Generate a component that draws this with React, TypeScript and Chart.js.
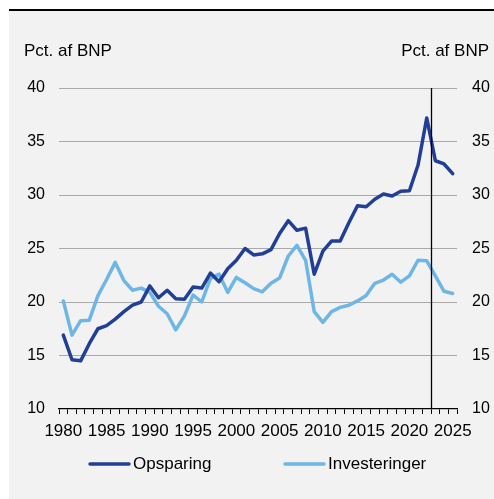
import React, { useEffect, useRef } from "react";
import { Chart, registerables } from "chart.js";

Chart.register(...registerables);

const years = [
  1980, 1981, 1982, 1983, 1984, 1985, 1986, 1987, 1988, 1989,
  1990, 1991, 1992, 1993, 1994, 1995, 1996, 1997, 1998, 1999,
  2000, 2001, 2002, 2003, 2004, 2005, 2006, 2007, 2008, 2009,
  2010, 2011, 2012, 2013, 2014, 2015, 2016, 2017, 2018, 2019,
  2020, 2021, 2022, 2023, 2024, 2025,
];

const opsparing = [
  16.9, 14.6, 14.5, 16.1, 17.5, 17.8, 18.4, 19.1, 19.7, 20.0,
  21.5, 20.4, 21.1, 20.3, 20.25, 21.4, 21.3, 22.7, 21.9, 23.1,
  23.9, 25.0, 24.4, 24.5, 24.9, 26.4, 27.6, 26.7, 26.9, 22.6,
  24.75, 25.7, 25.7, 27.4, 29.0, 28.9, 29.6, 30.1, 29.9, 30.35,
  30.4, 32.8, 37.2, 33.2, 32.9, 32.0,
];

const investeringer = [
  20.1, 16.9, 18.25, 18.3, 20.6, 22.1, 23.7, 22.0, 21.1, 21.3,
  20.9, 19.6, 18.9, 17.4, 18.7, 20.65, 20.0, 22.2, 22.6, 20.9,
  22.3, 21.8, 21.25, 20.95, 21.75, 22.25, 24.3, 25.3, 23.9, 19.1,
  18.1, 19.1, 19.5, 19.7, 20.1, 20.6, 21.75, 22.05, 22.6, 21.85,
  22.45, 23.9, 23.85, 22.45, 21.0, 20.8,
];

const yTicks = [10, 15, 20, 25, 30, 35, 40];
const seriesNames = ["Opsparing", "Investeringer"];
const axisTitle = "Pct. af BNP";
const lastActualYear = 2022;

const FONT = '"Liberation Sans", Arial, sans-serif';
const DARK = "#213f96";
const LIGHT = "#6db6e6";

export default function App() {
  const ref = useRef<HTMLCanvasElement>(null);

  useEffect(() => {
    const canvas = ref.current;
    if (!canvas) return;

    const overlay = {
      id: "overlay",
      afterDatasetsDraw(chart: any) {
        const { ctx, chartArea, scales } = chart;
        const idx = years.indexOf(lastActualYear);
        const x =
          (scales.x.getPixelForValue(idx) + scales.x.getPixelForValue(idx + 1)) / 2;
        ctx.save();
        ctx.strokeStyle = "#000";
        ctx.lineWidth = 1.3;
        ctx.beginPath();
        ctx.moveTo(Math.round(x) + 0.5, chartArea.top);
        ctx.lineTo(Math.round(x) + 0.5, chartArea.bottom);
        ctx.stroke();
        ctx.restore();
      },
      afterDraw(chart: any) {
        const { ctx } = chart;
        ctx.save();
        ctx.fillStyle = "#000";
        ctx.font = `17px ${FONT}`;
        ctx.textBaseline = "middle";
        ctx.textAlign = "left";
        ctx.fillText(axisTitle, 15, 40);
        ctx.textAlign = "right";
        ctx.fillText(axisTitle, 480, 40);

        // legend
        const items = [
          { name: seriesNames[0], color: DARK, x: 80 },
          { name: seriesNames[1], color: LIGHT, x: 275 },
        ];
        const ly = 453;
        items.forEach((it) => {
          ctx.strokeStyle = it.color;
          ctx.lineWidth = 3.5;
          ctx.lineCap = "round";
          ctx.beginPath();
          ctx.moveTo(it.x + 1, ly);
          ctx.lineTo(it.x + 40, ly);
          ctx.stroke();
          ctx.fillStyle = "#000";
          ctx.textAlign = "left";
          ctx.fillText(it.name, it.x + 44, ly);
        });
        ctx.restore();
      },
    };

    const chart = new Chart(canvas, {
      type: "line",
      data: {
        labels: years.map(String),
        datasets: [
          {
            label: seriesNames[0],
            data: opsparing,
            borderColor: DARK,
            backgroundColor: DARK,
            borderWidth: 3.5,
            pointRadius: 0,
            tension: 0,
            borderJoinStyle: "round",
            borderCapStyle: "round",
            yAxisID: "y",
          },
          {
            label: seriesNames[1],
            data: investeringer,
            borderColor: LIGHT,
            backgroundColor: LIGHT,
            borderWidth: 3.5,
            pointRadius: 0,
            tension: 0,
            borderJoinStyle: "round",
            borderCapStyle: "round",
            yAxisID: "y",
          },
        ],
      },
      options: {
        responsive: false,
        animation: false,
        layout: { padding: { top: 77, left: 0, right: 0, bottom: 0 } },
        plugins: {
          legend: { display: false },
          tooltip: { enabled: false },
        },
        scales: {
          x: {
            type: "category",
            offset: true,
            grid: {
              offset: true,
              drawOnChartArea: false,
              drawTicks: true,
              tickLength: 5,
              color: "#000",
              lineWidth: 1,
            },
            border: { display: true, color: "#000", width: 1.3 },
            ticks: {
              autoSkip: false,
              maxRotation: 0,
              minRotation: 0,
              padding: 7,
              color: "#000",
              font: { family: FONT, size: 17 },
              callback: (_v: any, i: number) =>
                years[i] % 5 === 0 ? String(years[i]) : "",
            },
            afterFit: (s: any) => {
              s.height = 90;
            },
          },
          y: {
            position: "left",
            min: 10,
            max: 40,
            afterBuildTicks: (s: any) => {
              s.ticks = yTicks.map((v) => ({ value: v }));
            },
            ticks: {
              padding: 14,
              color: "#000",
              font: { family: FONT, size: 16 },
            },
            grid: {
              drawTicks: false,
              lineWidth: 1,
              color: (ctx: any) =>
                ctx.tick && ctx.tick.value === 10 ? "rgba(0,0,0,0)" : "#a9a9a9",
            },
            border: { display: false },
            afterFit: (s: any) => {
              s.width = 50;
            },
          },
          y2: {
            position: "right",
            min: 10,
            max: 40,
            afterBuildTicks: (s: any) => {
              s.ticks = yTicks.map((v) => ({ value: v }));
            },
            ticks: {
              padding: 15,
              color: "#000",
              font: { family: FONT, size: 16 },
            },
            grid: { display: false, drawTicks: false },
            border: { display: false },
            afterFit: (s: any) => {
              s.width = 37;
            },
          },
        },
      },
      plugins: [overlay],
    } as any);

    return () => chart.destroy();
  }, []);

  return (
    <div
      style={{
        position: "fixed",
        left: 9,
        top: 9,
        borderTop: "2px solid #000",
        background: "#f2f2f2",
        width: 485,
        height: 488,
      }}
    >
      <canvas
        ref={ref}
        width={485}
        height={488}
        style={{ display: "block", width: 485, height: 488 }}
      />
    </div>
  );
}
